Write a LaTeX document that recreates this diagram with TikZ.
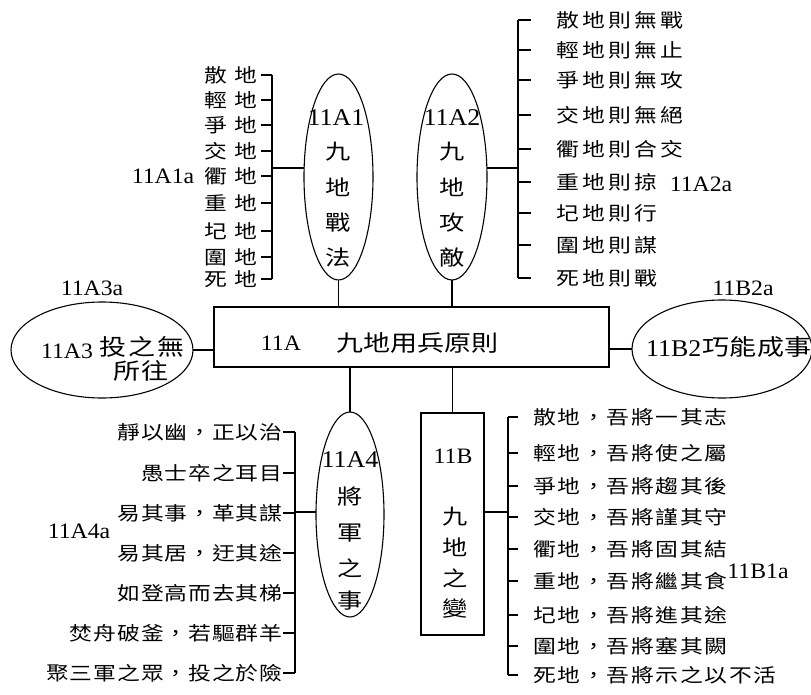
\documentclass[tikz,border=0pt]{standalone}
\usepackage{fontspec}
\setmainfont[FakeStretch=1.08]{Liberation Serif}
\newfontfamily\cjk[FakeStretch=1.2]{Noto Sans CJK TC}
\usetikzlibrary{shapes.geometric}
\newlength\chw
\newcommand\spaced[2]{\setlength\chw{#1}\expandafter\spacedA#2\relax}
\def\spacedA#1{\ifx\relax#1\else\makebox[\chw]{#1}\expandafter\spacedA\fi}
\newcommand\latf{\fontsize{22}{22}\selectfont}
\newcommand\latb{\fontsize{24}{24}\selectfont}
\newcommand\elf{\cjk\fontsize{21}{21}\selectfont}
\newcommand\lif{\cjk\fontsize{19}{19}\selectfont}
\newcommand\mcf{\cjk\fontsize{22.5}{22.5}\selectfont}
\tikzset{
  ln/.style={line width=1.1pt},
  ell/.style={ellipse, draw, line width=1.1pt, inner sep=0pt, outer sep=0pt},
  bx/.style={rectangle, draw, line width=1.1pt, inner sep=0pt, outer sep=0pt},
  lat/.style={inner sep=0pt, font=\latf},
  latbig/.style={inner sep=0pt, font=\latb},
  cj/.style={inner sep=0pt, font=\elf},
  li/.style={inner sep=0pt, font=\lif},
  mc/.style={inner sep=0pt, font=\mcf},
}
\begin{document}
\begin{tikzpicture}[x=1pt,y=-1pt]
\useasboundingbox (0,0) rectangle (811,695);
\fill[white] (0,0) rectangle (811,695);

% main box
\node[bx, minimum width=395pt, minimum height=60pt] (main) at (411.5,337) {};
\node[lat] (mainA) at (281,343) {11A};
\node[mc] (mainB) at (417,343) {\spaced{27pt}{九地用兵原則}};

% ellipse 11A1
\node[ell, minimum width=69pt, minimum height=206pt] (e1) at (338.5,177) {};
\node[latbig] (e1n) at (336,118) {11A1};
\foreach \c/\y [count=\i] in {九/152,地/187,戰/223,法/258}
  \node[cj] (e1c\i) at (338.5,\y) {\c};

% ellipse 11A2
\node[ell, minimum width=70pt, minimum height=206pt] (e2) at (452,177) {};
\node[latbig] (e2n) at (452,118) {11A2};
\foreach \c/\y [count=\i] in {九/152,地/187,攻/223,敵/258}
  \node[cj] (e2c\i) at (452,\y) {\c};

% ellipse 11A3
\node[ell, minimum width=182pt, minimum height=96pt] (e3) at (102,350) {};
\node[lat] (e3n) at (67,351) {11A3};
\node[mc] (e3a) at (142,347) {\spaced{29pt}{投之無}};
\node[mc] (e3b) at (141,371) {\spaced{28pt}{所往}};

% ellipse 11B2
\node[ell, minimum width=180pt, minimum height=98pt] (e4) at (722,349) {};
\node[latbig, anchor=west] (e4n) at (646,349) {11B2};
\node[mc, anchor=west] (e4a) at (702,347) {\spaced{27.5pt}{巧能成事}};

% ellipse 11A4
\node[ell, minimum width=68pt, minimum height=205pt] (e5) at (350,514.5) {};
\node[latbig] (e5n) at (350,460) {11A4};
\foreach \c/\y [count=\i] in {將/497,軍/533,之/568,事/601}
  \node[cj] (e5c\i) at (350,\y) {\c};

% box 11B
\node[bx, minimum width=63pt, minimum height=222pt] (b2) at (452.5,524) {};
\node[lat] (b2n) at (453,456) {11B};
\foreach \c/\y [count=\i] in {九/517,地/547,之/578,變/609}
  \node[cj] (b2c\i) at (455,\y) {\c};

% connectors to main box
\draw[ln] (e1.south) -- (e1.south |- main.north);
\draw[ln] (e2.south) -- (e2.south |- main.north);
\draw[ln] (e5.north) -- (e5.north |- main.south);
\draw[ln] (b2.north) -- (b2.north |- main.south);
\draw[ln] (e3.east) -- (e3.east -| main.west);
\draw[ln] (e4.west) -- (e4.west -| main.east);

% list 11A1a
\coordinate (a1t) at (272,75);
\coordinate (a1b) at (272,279);
\draw[ln] (a1t) -- (a1b);
\coordinate (j1) at (272,168);
\draw[ln] (j1) -- (j1 -| e1.165);
\foreach \t/\y [count=\i] in {散地/75,輕地/100,爭地/125,交地/151,衢地/176,重地/203,圮地/231,圍地/257,死地/279}{
  \node[li, anchor=east] (p\i) at (261,\y) {\spaced{30pt}{\t}};
  \draw[ln] (p\i.east) -- (p\i.east -| a1t);
}
\node[lat] (l11A1a) at (163,176) {11A1a};

% list 11A2a
\coordinate (a2t) at (518,20);
\coordinate (a2b) at (518,278);
\draw[ln] (a2t) -- (a2b);
\coordinate (j2) at (518,168);
\draw[ln] (j2) -- (j2 -| e2.15);
\foreach \t/\y [count=\i] in {散地則無戰/20,輕地則無止/50,爭地則無攻/80,交地則無絕/115,衢地則合交/149,重地則掠/182,圮地則行/213,圍地則謀/245,死地則戰/278}{
  \node[li, anchor=west] (q\i) at (555,\y) {\spaced{26pt}{\t}};
  \draw[ln] (q\i.west -| a2t) -- ++(13,0);
}
\node[lat] (l11A2a) at (701,184) {11A2a};

% list 11A4a
\coordinate (a4t) at (295,432);
\coordinate (a4b) at (295,673);
\draw[ln] (a4t) -- (a4b);
\coordinate (j4) at (295,512);
\draw[ln] (j4) -- (j4 -| e5.west);
\foreach \t/\y [count=\i] in {靜以幽，正以治/432,愚士卒之耳目/473,易其事，革其謀/513,易其居，迂其途/553,如登高而去其梯/593,焚舟破釜，若驅群羊/633,聚三軍之眾，投之於險/673}{
  \node[li, anchor=east] (r\i) at (283,\y) {\spaced{23.7pt}{\t}};
  \draw[ln] (r\i.east) -- (r\i.east -| a4t);
}
\node[lat] (l11A4a) at (79,531) {11A4a};

% list 11B1a
\coordinate (b1t) at (508,417);
\coordinate (b1b) at (508,675);
\draw[ln] (b1t) -- (b1b);
\coordinate (j5) at (508,512);
\draw[ln] (b2.east |- j5) -- (j5);
\foreach \t/\y [count=\i] in {散地，吾將一其志/417,輕地，吾將使之屬/453,爭地，吾將趨其後/486,交地，吾將謹其守/517,衢地，吾將固其結/549,重地，吾將繼其食/581,圮地，吾將進其途/615,圍地，吾將塞其闕/646,死地，吾將示之以不活/675}{
  \node[li, anchor=west] (s\i) at (532,\y) {\spaced{24.5pt}{\t}};
  \draw[ln] (s\i.west -| b1t) -- ++(10,0);
}
\node[lat] (l11B1a) at (758,571) {11B1a};

% other labels
\node[lat] (l11A3a) at (92,288) {11A3a};
\node[lat] (l11B2a) at (743,288) {11B2a};
\end{tikzpicture}
\end{document}
